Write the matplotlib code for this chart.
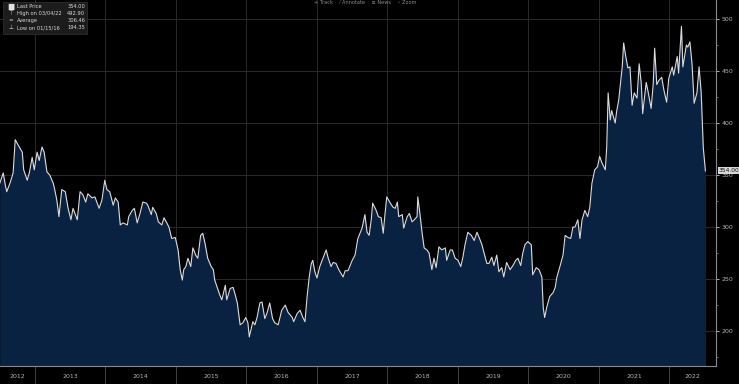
import numpy as np
import matplotlib
matplotlib.use("Agg")
import matplotlib.pyplot as plt
from matplotlib.ticker import MultipleLocator, FixedLocator, NullFormatter
import matplotlib.transforms as mtransforms

# price history (decimal years)
years = [
    2012.50, 2012.55, 2012.58, 2012.60, 2012.65, 2012.69, 2012.72, 2012.76, 2012.82, 2012.84,
    2012.89, 2012.92, 2012.96, 2012.99, 2013.03, 2013.06, 2013.10, 2013.13, 2013.17, 2013.21,
    2013.26, 2013.28, 2013.31, 2013.34, 2013.38, 2013.43, 2013.47, 2013.51, 2013.54, 2013.60,
    2013.64, 2013.68, 2013.72, 2013.75, 2013.81, 2013.85, 2013.91, 2013.95, 2013.99, 2014.02,
    2014.06, 2014.11, 2014.14, 2014.18, 2014.21, 2014.25, 2014.31, 2014.33, 2014.38, 2014.41,
    2014.45, 2014.49, 2014.53, 2014.58, 2014.60, 2014.65, 2014.67, 2014.72, 2014.75, 2014.80,
    2014.83, 2014.87, 2014.90, 2014.94, 2014.99, 2015.03, 2015.06, 2015.09, 2015.11, 2015.14,
    2015.17, 2015.21, 2015.24, 2015.28, 2015.31, 2015.35, 2015.38, 2015.41, 2015.45, 2015.50,
    2015.53, 2015.55, 2015.60, 2015.62, 2015.65, 2015.70, 2015.72, 2015.77, 2015.81, 2015.84,
    2015.87, 2015.91, 2015.95, 2015.99, 2016.02, 2016.04, 2016.09, 2016.12, 2016.15, 2016.19,
    2016.22, 2016.26, 2016.29, 2016.33, 2016.37, 2016.40, 2016.45, 2016.50, 2016.55, 2016.59,
    2016.65, 2016.67, 2016.72, 2016.76, 2016.80, 2016.83, 2016.86, 2016.89, 2016.92, 2016.94,
    2016.97, 2017.00, 2017.04, 2017.09, 2017.13, 2017.16, 2017.20, 2017.23, 2017.27, 2017.31,
    2017.37, 2017.40, 2017.44, 2017.50, 2017.54, 2017.58, 2017.61, 2017.64, 2017.68, 2017.71,
    2017.74, 2017.77, 2017.79, 2017.84, 2017.87, 2017.91, 2017.94, 2017.96, 2017.99, 2018.04,
    2018.08, 2018.11, 2018.14, 2018.16, 2018.21, 2018.23, 2018.28, 2018.31, 2018.35, 2018.38,
    2018.42, 2018.43, 2018.46, 2018.49, 2018.52, 2018.56, 2018.59, 2018.63, 2018.66, 2018.69,
    2018.73, 2018.77, 2018.82, 2018.84, 2018.89, 2018.92, 2018.96, 2019.00, 2019.04, 2019.07,
    2019.10, 2019.14, 2019.19, 2019.23, 2019.27, 2019.30, 2019.34, 2019.37, 2019.41, 2019.44,
    2019.48, 2019.51, 2019.55, 2019.58, 2019.62, 2019.65, 2019.69, 2019.74, 2019.78, 2019.82,
    2019.85, 2019.89, 2019.92, 2019.95, 2019.99, 2020.04, 2020.06, 2020.11, 2020.15, 2020.19,
    2020.21, 2020.23, 2020.26, 2020.30, 2020.35, 2020.38, 2020.40, 2020.45, 2020.49, 2020.52,
    2020.56, 2020.60, 2020.63, 2020.66, 2020.70, 2020.73, 2020.76, 2020.80, 2020.84, 2020.87,
    2020.90, 2020.94, 2020.98, 2021.01, 2021.04, 2021.09, 2021.11, 2021.13, 2021.16, 2021.18,
    2021.23, 2021.25, 2021.28, 2021.33, 2021.35, 2021.38, 2021.41, 2021.44, 2021.47, 2021.50,
    2021.54, 2021.57, 2021.60, 2021.62, 2021.67, 2021.70, 2021.74, 2021.77, 2021.79, 2021.82,
    2021.85, 2021.89, 2021.92, 2021.96, 2021.99, 2022.04, 2022.06, 2022.11, 2022.13, 2022.17,
    2022.19, 2022.24, 2022.26, 2022.29, 2022.32, 2022.35, 2022.39, 2022.42, 2022.45, 2022.48,
    2022.51,
]
price = [
    342, 352, 340, 334, 343, 352, 384, 379, 372, 355,
    345, 352, 367, 355, 372, 364, 377, 372, 353, 350,
    342, 336, 326, 310, 336, 334, 318, 307, 318, 307,
    334, 331, 324, 332, 328, 329, 318, 326, 345, 336,
    334, 321, 328, 324, 302, 304, 302, 310, 316, 318,
    304, 313, 324, 323, 321, 312, 319, 313, 305, 302,
    309, 304, 300, 289, 290, 278, 259, 249, 259, 262,
    270, 262, 280, 273, 270, 292, 294, 285, 270, 262,
    259, 249, 239, 235, 230, 244, 230, 241, 242, 235,
    227, 206, 208, 213, 208, 194.35, 209, 206, 213, 227,
    228, 212, 217, 227, 212, 208, 206, 220, 225, 218,
    213, 209, 217, 220, 213, 209, 233, 252, 265, 268,
    257, 251, 262, 271, 278, 270, 262, 266, 265, 259,
    252, 258, 258, 268, 273, 289, 294, 299, 312, 295,
    292, 307, 323, 316, 310, 309, 294, 309, 329, 323,
    319, 318, 324, 310, 312, 299, 310, 313, 305, 307,
    310, 329, 313, 295, 280, 278, 275, 259, 270, 261,
    281, 278, 280, 268, 278, 278, 270, 268, 262, 271,
    283, 295, 292, 287, 295, 290, 283, 275, 265, 265,
    271, 263, 273, 257, 261, 252, 266, 259, 263, 268,
    270, 263, 275, 283, 286, 283, 254, 261, 259, 252,
    222, 213, 223, 233, 237, 242, 251, 263, 273, 292,
    290, 289, 300, 300, 307, 289, 307, 316, 310, 319,
    342, 355, 358, 368, 362, 355, 377, 429, 403, 412,
    400, 411, 422, 454, 477, 464, 453, 454, 417, 429,
    424, 457, 438, 409, 439, 429, 414, 438, 472, 437,
    441, 444, 432, 420, 443, 454, 446, 464, 448, 492.9,
    454, 475, 473, 478, 457, 419, 429, 454, 429, 376,
    354,
]

year_labels = list(range(2012, 2023))
legend_rows = [
    ("Last Price", "354.00"),
    ("High on 03/04/22", "492.90"),
    ("Average", "306.46"),
    ("Low on 01/15/16", "194.35"),
]
last_price = 354.00

BG    = "#000000"
FILL  = "#0a2242"
GRID  = "#2a2a2a"
TXT   = "#b4b4b4"

x0, x1 = 2012.504, 2022.66
y0, y1 = 166.4, 518.3

fig = plt.figure(figsize=(7.39, 3.84), dpi=100, facecolor=BG)
ax = fig.add_axes([0, 18 / 384, 716 / 739, 366 / 384])
ax.set_facecolor(BG)

ax.fill_between(years, price, y0, color=FILL, linewidth=0, zorder=2)
ax.plot(years, price, color="#dcdcdc", linewidth=0.8, zorder=3)

ax.set_xlim(x0, x1)
ax.set_ylim(y0, y1)

# grid
for v in range(200, 501, 50):
    ax.axhline(v, color=GRID, linewidth=0.7, zorder=1)
for yr in range(2013, 2023):
    ax.axvline(yr, color=GRID, linewidth=0.7, zorder=1)

# spines
for s in ["top", "left"]:
    ax.spines[s].set_visible(False)
ax.spines["bottom"].set_color("#8a8a8a")
ax.spines["bottom"].set_linewidth(0.8)
ax.spines["right"].set_color("#8a8a8a")
ax.spines["right"].set_linewidth(0.8)

# right price axis
ax.yaxis.tick_right()
ax.yaxis.set_major_locator(MultipleLocator(50))
ax.yaxis.set_minor_locator(MultipleLocator(25))
ax.tick_params(axis="y", which="major", length=2.5, width=0.6, color="#cccccc",
               labelsize=4.5, labelcolor=TXT, pad=1.5)
ax.tick_params(axis="y", which="minor", length=1.5, width=0.5, color="#888888")

# bottom year axis: long separators at year boundaries, quarter ticks
ax.xaxis.set_major_locator(FixedLocator(list(range(2013, 2023))))
ax.xaxis.set_major_formatter(NullFormatter())
quarters = [y + q for y in range(2012, 2023) for q in (0.25, 0.5, 0.75)]
ax.xaxis.set_minor_locator(FixedLocator([q for q in quarters if x0 < q < x1]))
ax.tick_params(axis="x", which="major", length=13, width=0.6, color="#4a4a4a", direction="out")
ax.tick_params(axis="x", which="minor", length=2, width=0.6, color="#cccccc", direction="in")

trans = mtransforms.blended_transform_factory(ax.transData, fig.transFigure)
for yr in year_labels:
    lo, hi = max(yr, x0), min(yr + 1, x1)
    ax.text((lo + hi) / 2, 8 / 384, str(yr), transform=trans, ha="center", va="center",
            fontsize=4.5, color=TXT, clip_on=False)

# last price tag
ax.annotate(f"{last_price:.2f}", xy=(1.0, last_price), xycoords=("axes fraction", "data"),
            xytext=(2, 0), textcoords="offset points", ha="left", va="center",
            fontsize=4.3, color="#111111", annotation_clip=False,
            bbox=dict(boxstyle="square,pad=0.15", fc="#d8d8d8", ec="none"))

# legend box, top left
fig.patches.append(plt.Rectangle((3 / 739, 1 - 34 / 384), 84 / 739, 32 / 384,
                                 transform=fig.transFigure, facecolor="#1c1c1c",
                                 edgecolor="#333333", linewidth=0.5, zorder=5))
icons = ["■", "⊤", "=", "⊥"]
for i, (lab, val) in enumerate(legend_rows):
    yy = 1 - (6 + i * 7.2) / 384
    fig.text(11 / 739, yy, icons[i], fontsize=4.0 if i else 5.5, color="#e0e0e0",
             ha="center", va="center", zorder=6)
    fig.text(17 / 739, yy, lab, fontsize=3.7, color="#d8d8d8", ha="left", va="center", zorder=6)
    fig.text(85 / 739, yy, val, fontsize=3.7, color="#d8d8d8", ha="right", va="center", zorder=6)

# toolbar strip at top
fig.text(365 / 739, 1 - 3 / 384, "+ Track    ⁄ Annotate    ≡ News    ◦ Zoom",
         fontsize=3.6, color="#8c8c8c", ha="center", va="center")

fig.savefig("out.png", dpi=100, facecolor=BG)
